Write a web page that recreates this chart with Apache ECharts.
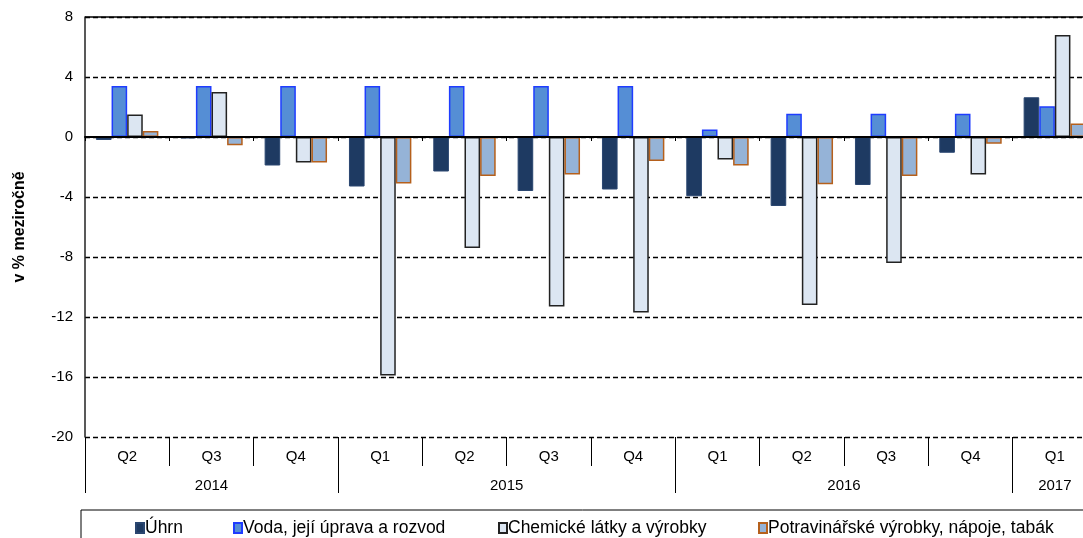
<!DOCTYPE html>
<html><head><meta charset="utf-8">
<script src="https://cdn.jsdelivr.net/npm/echarts@6/dist/echarts.min.js"></script>
<style>html,body{margin:0;padding:0;background:#fff;}#c{width:1083px;height:538px;}</style>
</head><body><div id="c"></div>
<script>
const categories = ['Q2','Q3','Q4','Q1','Q2','Q3','Q4','Q1','Q2','Q3','Q4','Q1'];
const years = ['2014','2015','2016','2017'];
const yearCounts = [3,4,4,1];
const yTicks = [-20,-16,-12,-8,-4,0,4,8];
const seriesNames = ['Úhrn','Voda, její úprava a rozvod','Chemické látky a výrobky','Potravinářské výrobky, nápoje, tabák'];
const uhrn   = [-0.2, -0.1, -1.9, -3.3, -2.3, -3.6, -3.5, -3.95, -4.6, -3.2, -1.05, 2.65];
const voda   = [3.4, 3.4, 3.4, 3.4, 3.4, 3.4, 3.4, 0.5, 1.55, 1.55, 1.55, 2.05];
const chem   = [1.5, 3.0, -1.7, -15.9, -7.4, -11.3, -11.7, -1.5, -11.2, -8.4, -2.5, 6.8];
const potrav = [0.4, -0.55, -1.7, -3.1, -2.6, -2.5, -1.6, -1.9, -3.15, -2.6, -0.45, 0.9];

// year group boundaries and centers (derived from counts)
const yearBounds = [0];
yearCounts.forEach(c => yearBounds.push(yearBounds[yearBounds.length-1] + c));
const yearCenters = yearCounts.map((c,i) => yearBounds[i] + c/2);

const FONT = 'Liberation Sans, Arial, sans-serif';
const chart = echarts.init(document.getElementById('c'), null, {renderer:'canvas'});

const styles = [
  {color:'#1E3A62', borderColor:'#2a4670', borderWidth:1},
  {color:'#558ED5', borderColor:'#1f3cff', borderWidth:1.5},
  {color:'#DCE6F2', borderColor:'#222222', borderWidth:1.5},
  {color:'#95B3D7', borderColor:'#B5601C', borderWidth:1.5}
];
const datas = [uhrn, voda, chem, potrav];
const legendLeft = [135, 233, 498, 758];

const series = datas.map((d,i) => ({
  name: seriesNames[i], type:'bar', data:d, xAxisIndex:0, yAxisIndex:0,
  barGap:'0%', barCategoryGap:'26%', itemStyle: styles[i],
  animation:false
}));
series[0].markLine = {
  silent:true, symbol:'none', label:{show:false},
  lineStyle:{color:'#000', type:'solid', width:1.5},
  data:[{yAxis: yTicks[yTicks.length-1]}]
};

chart.setOption({
  animation:false,
  textStyle:{fontFamily:FONT},
  grid:{left:85, width:1012, top:17, bottom:101, containLabel:false, outerBoundsMode:'none'},
  legend: seriesNames.map((n,i) => ({
    data:[n], left:legendLeft[i], top:519, padding:0,
    itemWidth:8, itemHeight:10, icon:'rect', selectedMode:false,
    textStyle:{fontFamily:FONT, fontSize:17.5, color:'#000', padding:[0,0,0,-4]}
  })),
  graphic:[{type:'rect', shape:{x:81, y:510, width:1020, height:40}, style:{fill:'none', stroke:'#000', lineWidth:1}, silent:true}],
  xAxis:[
    {type:'category', data:categories, z:10,
     axisLine:{show:true, onZero:true, lineStyle:{color:'#000', width:2}},
     axisTick:{show:true, length:4, lineStyle:{color:'#000', width:1}},
     axisLabel:{show:false}, splitLine:{show:false}},
    {type:'category', data:categories, position:'bottom',
     axisLine:{show:false, onZero:false},
     axisTick:{show:true, length:29, lineStyle:{color:'#000', width:1}},
     axisLabel:{show:true, margin:12, fontSize:15, color:'#000', fontFamily:FONT},
     splitLine:{show:false}},
    {type:'value', min:0, max:categories.length, position:'bottom',
     axisLine:{show:false, onZero:false},
     axisTick:{show:true, length:56, customValues:yearBounds, lineStyle:{color:'#000', width:1}},
     axisLabel:{show:true, margin:41, fontSize:15, color:'#000', fontFamily:FONT, customValues:yearCenters,
       formatter:(v) => { const i = yearCenters.indexOf(v); return i>=0 ? years[i] : ''; }},
     splitLine:{show:false}}
  ],
  yAxis:[{type:'value', min:yTicks[0], max:yTicks[yTicks.length-1], interval:4,
    name:'v % meziročně', nameLocation:'middle', nameGap:57,
    nameTextStyle:{fontFamily:FONT, fontSize:16, fontWeight:'bold', color:'#000'},
    axisLine:{show:true, lineStyle:{color:'#222', width:1.5}},
    axisTick:{show:false},
    axisLabel:{margin:12, fontSize:15, color:'#000', fontFamily:FONT},
    splitLine:{show:true, lineStyle:{color:'#000', type:[5,3], width:1.3}}
  }],
  series: series
});
</script></body></html>
